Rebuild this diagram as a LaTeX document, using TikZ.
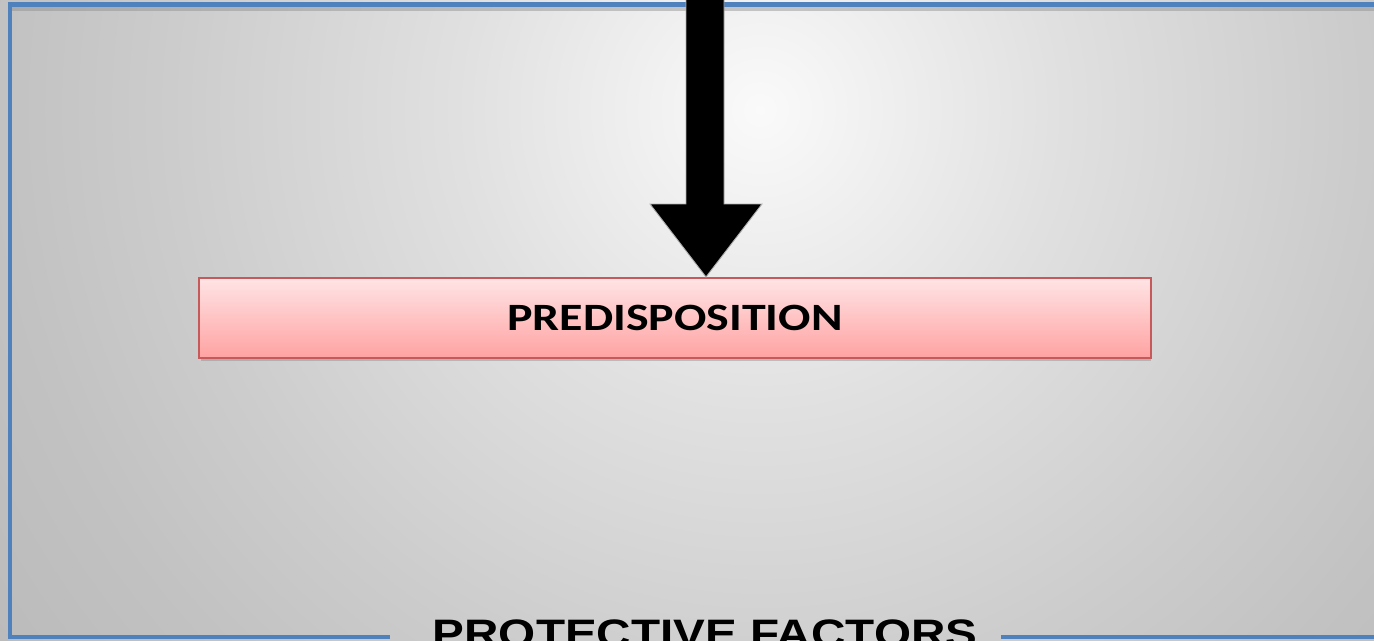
\documentclass[tikz,border=0pt]{standalone}
\usepackage{fontspec}
\usepackage{xcolor}
\usetikzlibrary{calc, shadings}
\newfontfamily\boxfont[FakeStretch=1.24]{Carlito}
\newfontfamily\capfont[FakeStretch=1.2]{Liberation Sans}
\definecolor{frame}{HTML}{4F81BD}
\definecolor{boxline}{HTML}{C65A5A}
\definecolor{boxtop}{HTML}{FFE4E5}
\definecolor{boxbot}{HTML}{FFA2A2}
\definecolor{shade}{HTML}{8C8C8C}
\pgfdeclareradialshading{glow}{\pgfpointorigin}{%
  color(0bp)=(white!98!black);
  color(7.5bp)=(white!88!black);
  color(14.75bp)=(white!80!black);
  color(19bp)=(white!76!black);
  color(23.75bp)=(white!73!black);
  color(25bp)=(white!72!black);
  color(50bp)=(white!72!black)}
\tikzset{
  edge/.style={draw=frame, line width=2.5pt, line cap=butt},
  drop/.style={draw=shade, opacity=0.45, line width=2.2pt},
  pbox/.style={draw=boxline, line width=1.2pt, top color=boxtop,
               bottom color=boxbot, minimum width=952*0.02cm,
               minimum height=80*0.02cm, inner sep=0pt,
               font=\boxfont\bfseries\fontsize{22}{26}\selectfont},
  title/.style={font=\capfont\bfseries\fontsize{22.6}{27}\selectfont,
                inner sep=0pt, anchor=base},
  fat/.style={fill=black, draw=shade!70, line width=0.5pt, line join=miter},
}
\begin{document}
\begin{tikzpicture}[x=0.02cm, y=-0.02cm]
  \useasboundingbox (0,0) rectangle (1374,640);

  % --- backdrop ---------------------------------------------------------
  \begin{scope}
    \clip (0,0) rectangle (1374,640);
    \path[shading=glow] (760,110) circle (1000);
  \end{scope}

  % --- frame ------------------------------------------------------------
  \draw[drop] (12,9) -- (1374,9);
  \draw[edge] (10,4.5) -- (1374,4.5);
  \draw[edge] (9.7,2.3) -- (9.7,639);
  \draw[edge] (7.5,637) -- (390,637);
  \draw[edge] (1001,637) -- (1374,637);

  % --- box and arrow ----------------------------------------------------
  \draw[drop, line width=1.2pt] (201,360) -- (1151,360);
  \node[pbox] (pre) at (675,318) {PREDISPOSITION};

  \coordinate (src) at (705,-5);
  \coordinate (tip) at (pre.north -| 706,0);
  \path[fat] (tip) -- (650,204) -- (686,204) -- (src -| 686,0)
    -- (src -| 724,0) -- (724,204) -- (762,204) -- cycle;

  % --- caption ----------------------------------------------------------
  \node[title] (cap) at (705,647) {PROTECTIVE FACTORS};

\end{tikzpicture}
\end{document}
